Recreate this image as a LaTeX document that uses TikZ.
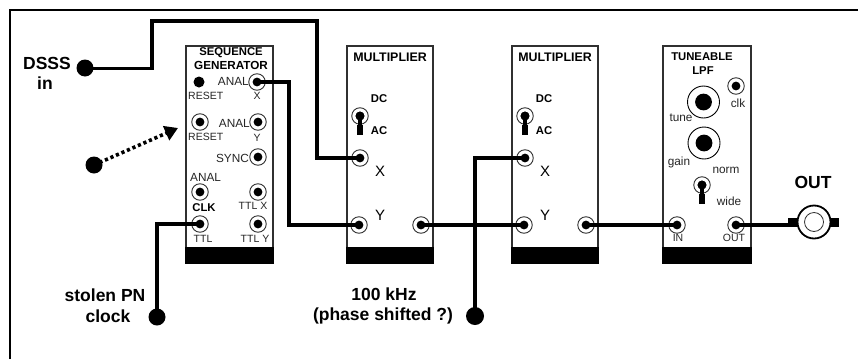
\documentclass[tikz,border=0pt]{standalone}
\usepackage{fontspec}
\setmainfont{Liberation Sans}
\usepackage{xcolor}
\usetikzlibrary{arrows.meta, calc}
\definecolor{panelEdge}{HTML}{303030}

\begin{document}
\begin{tikzpicture}[
    x=1pt, y=-1pt,
    panel/.style={draw=panelEdge, line width=1.8pt, fill=white},
    base/.style={fill=black},
    socket/.style={circle, draw=panelEdge, line width=0.9pt, fill=white, minimum size=16.5pt, inner sep=0pt,
                   path picture={\fill[black] (path picture bounding box.center) circle (4.4pt);}},
    knob/.style={circle, draw=black, line width=0.9pt, fill=white, minimum size=32pt, inner sep=0pt,
                 path picture={\fill[black] (path picture bounding box.center) circle (8.4pt);}},
    blob/.style={circle, fill=black, minimum size=#1, inner sep=0pt},
    blob/.default=17pt,
    small/.style={font=\fontsize{10.5}{12}\selectfont, inner sep=0pt, text=black!85},
    note/.style={font=\fontsize{11.8}{13}\selectfont, inner sep=0pt, text=black!85},
    tag/.style={font=\fontsize{11.3}{13}\selectfont\bfseries, inner sep=0pt},
    axis/.style={font=\fontsize{15}{17}\selectfont, inner sep=0pt},
    callout/.style={font=\fontsize{17.5}{20}\selectfont\bfseries, inner sep=0pt},
    wire/.style={line width=4.3pt, line join=miter},
    toggle/.pic={
        \node[socket] (-s) at (0,0) {};
        \fill[black] (0,0) circle (4.4pt);
        \fill[black] (-1.8,0) rectangle (1.8,12);
        \fill[black] (-3.2,9) rectangle (2.8,19);
    },
]
\useasboundingbox (0,0) rectangle (858,359);
\fill[white] (0,0) rectangle (858,359);
\draw[line width=2.6pt] (10,359) -- (10,10) -- (858,10);

% sequence generator
\draw[panel] (186,46) rectangle (273,263);
\fill[base] (185,247) rectangle (274,264);
\node[tag] (seqA) at (231,53) {SEQUENCE};
\node[tag, font=\fontsize{11.7}{13}\selectfont\bfseries] (seqB) at (231,65) {GENERATOR};
\node[blob=11pt] (rstdot) at (199,82) {};
\node[socket] (anx) at (257,82) {};
\node[socket] (rst) at (200,122) {};
\node[socket] (any) at (258,122) {};
\node[socket] (sync) at (258,157) {};
\node[socket] (anal) at (200,192) {};
\node[socket] (ttlx) at (258,192) {};
\node[socket] (clk) at (200,224) {};
\node[socket] (ttly) at (258,224) {};
\node[note, anchor=east] (lanx) at (249,81) {ANAL};
\node[small, anchor=west] (lrsta) at (188,96) {RESET};
\node[small] (lx) at (257,96) {X};
\node[note, anchor=east] (lany) at (250,123) {ANAL};
\node[small, anchor=west] (lrstb) at (188,137) {RESET};
\node[small] (ly) at (257,138) {Y};
\node[note, anchor=east] (lsync) at (249,158) {SYNC};
\node[note, anchor=west] (lanal) at (190,177) {ANAL};
\node[small] (lttlx) at (253,206) {TTL X};
\node[tag] (lclk) at (204,208) {CLK};
\node[small] (lttl) at (203,239) {TTL};
\node[small] (lttly) at (255,239) {TTL Y};

% the two multipliers
\foreach \ox/\nm in {0/a, 165/b} {
    \draw[panel] (347+\ox,46) rectangle (433+\ox,263);
    \fill[base] (346+\ox,247) rectangle (434+\ox,264);
    \node[tag, font=\fontsize{12.4}{14}\selectfont\bfseries] (title\nm) at (390+\ox,57) {MULTIPLIER};
    \node[tag] (dc\nm) at (379+\ox,99) {DC};
    \node[tag] (ac\nm) at (379+\ox,131) {AC};
    \pic (sw\nm) at (360+\ox,116) {toggle};
    \node[socket] (x\nm) at (360+\ox,158) {};
    \node[socket] (y\nm) at (359+\ox,225) {};
    \node[socket] (o\nm) at (421+\ox,225) {};
    \node[axis] (lx\nm) at (380+\ox,171) {X};
    \node[axis] (ly\nm) at (380+\ox,215) {Y};
}

% tuneable lpf
\draw[panel] (663,46) rectangle (751,263);
\fill[base] (662,247) rectangle (752,264);
\node[tag] (lpfA) at (702,57) {TUNEABLE};
\node[tag] (lpfB) at (703,71) {LPF};
\node[socket] (lclkin) at (736,86) {};
\node[knob] (tune) at (703.5,102) {};
\node[knob] (gain) at (704,143) {};
\pic (swc) at (702,185) {toggle};
\node[socket] (lin) at (677,225) {};
\node[socket] (lout) at (736,225) {};
\node[note] (tclk) at (738,103) {clk};
\node[note] (ttune) at (681,118) {tune};
\node[note] (tgain) at (679,162) {gain};
\node[note] (tnorm) at (726,170) {norm};
\node[note] (twide) at (729,201) {wide};
\node[small] (tin) at (678,238) {IN};
\node[small] (tout) at (734,238) {OUT};

% output connector
\fill[black] (788,218) rectangle (839,227);
\node[circle, draw=black, line width=1.8pt, fill=white, minimum size=33pt, inner sep=0pt] (bnc) at (814,222) {};
\node[circle, draw=panelEdge, line width=0.8pt, minimum size=19pt, inner sep=0pt] (bncin) at (814,222) {};
\node[callout] (lbnc) at (813,182) {OUT};

% inputs
\node[blob] (dsss) at (85,68) {};
\node[blob] (rstin) at (94,165) {};
\node[blob] (pnclk) at (157,317) {};
\node[blob=18pt] (carrier) at (475,316) {};
\node[callout] (ldsssA) at (47,63) {DSSS};
\node[callout] (ldsssB) at (45,83) {in};
\node[callout] (lpnA) at (105,295) {stolen PN};
\node[callout] (lpnB) at (108,316) {clock};
\node[callout] (lcarA) at (384,294) {100 kHz};
\node[callout] (lcarB) at (383,316) {(phase shifted ?)};
\coordinate (rsttip) at (178,128);
\coordinate (topL) at (152,21);
\coordinate (topR) at (317,21);
\coordinate (seqrun) at (289,82);

% patching
\draw[wire, line width=3pt] (dsss.center) -- (topL |- dsss.center);
\draw[wire] ($(topL |- dsss.center)+(0,1.5)$) -- (topL) -- (topR) -- (topR |- xa.center) -- (xa.center);
\draw[wire] (anx.center) -- (seqrun) -- (seqrun |- ya.center) -- (ya.center);
\draw[wire] (oa.center) -- (yb.center);
\draw[wire] (ob.center) -- (lin.center);
\draw[wire] (lout.center) -- (lout.center -| bnc.west);
\draw[wire] (pnclk.center) -- (pnclk.center |- clk.center) -- (clk.center);
\draw[wire] (carrier.center) -- (carrier.center |- xb.center) -- (xb.center);
\draw[line width=3.6pt, dash pattern=on 3.2pt off 2.8pt, -{Triangle[length=13pt, width=15pt]}] (rstin.center) -- (rsttip);
\end{tikzpicture}
\end{document}
